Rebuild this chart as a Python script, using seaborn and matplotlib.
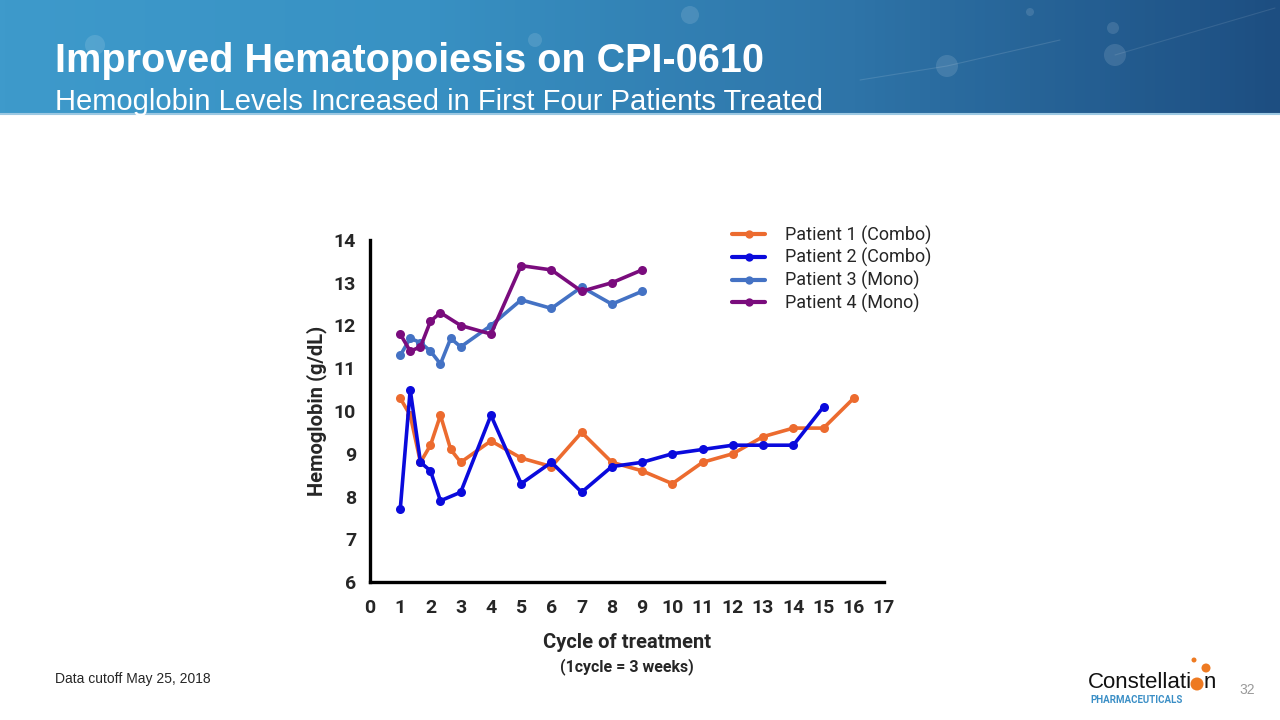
import seaborn as sns
import pandas as pd
import matplotlib.pyplot as plt
import matplotlib
import numpy as np
from matplotlib.colors import LinearSegmentedColormap
from matplotlib.lines import Line2D
from matplotlib.patches import Circle
from matplotlib.font_manager import FontProperties
matplotlib.use('Agg')

# data (cycle of treatment, hemoglobin g/dL)
p1_cycle = [1, 1.33, 1.67, 2, 2.33, 2.67, 3, 4, 5, 6, 7, 8, 9, 10, 11, 12, 13, 14, 15, 16]
p1_hgb = [10.3, 9.9, 8.8, 9.2, 9.9, 9.1, 8.8, 9.3, 8.9, 8.7, 9.5, 8.8, 8.6, 8.3, 8.8, 9.0, 9.4, 9.6, 9.6, 10.3]
p2_cycle = [1, 1.33, 1.67, 2, 2.33, 3, 4, 5, 6, 7, 8, 9, 10, 11, 12, 13, 14, 15]
p2_hgb = [7.7, 10.5, 8.8, 8.6, 7.9, 8.1, 9.9, 8.3, 8.8, 8.1, 8.7, 8.8, 9.0, 9.1, 9.2, 9.2, 9.2, 10.1]
p3_cycle = [1, 1.33, 1.67, 2, 2.33, 2.67, 3, 4, 5, 6, 7, 8, 9]
p3_hgb = [11.3, 11.7, 11.6, 11.4, 11.1, 11.7, 11.5, 12.0, 12.6, 12.4, 12.9, 12.5, 12.8]
p4_cycle = [1, 1.33, 1.67, 2, 2.33, 3, 4, 5, 6, 7, 8, 9]
p4_hgb = [11.8, 11.4, 11.5, 12.1, 12.3, 12.0, 11.8, 13.4, 13.3, 12.8, 13.0, 13.3]

names = ["Patient 1 (Combo)", "Patient 2 (Combo)", "Patient 3 (Mono)", "Patient 4 (Mono)"]
colors = ["#EC6B2F", "#0A0ADC", "#4472C4", "#7A0C7D"]
x_ticks = list(range(0, 18))
y_ticks = list(range(6, 15))

frames = []
for name, xs, ys in zip(names, [p1_cycle, p2_cycle, p3_cycle, p4_cycle], [p1_hgb, p2_hgb, p3_hgb, p4_hgb]):
    frames.append(pd.DataFrame({"cycle": xs, "hgb": ys, "patient": name}))
df = pd.concat(frames, ignore_index=True)

sns.set_style("white")
plt.rcParams['font.family'] = ['Liberation Sans', 'DejaVu Sans']

def narrow(size, weight="bold"):
    return FontProperties(family="Roboto", stretch="condensed", weight=weight, size=size)

fig = plt.figure(figsize=(12.8, 7.2), dpi=100)
# overlay in pixel coordinates for decorations
pix = fig.add_axes([0, 0, 1, 1])
pix.set_xlim(0, 1280)
pix.set_ylim(720, 0)
pix.axis("off")

# header banner
cmap = LinearSegmentedColormap.from_list("banner", ["#3E9ACB", "#3891C3", "#2E74A8", "#1D4E81"])
grad = np.linspace(0, 1, 256).reshape(1, -1)
pix.imshow(grad, aspect='auto', cmap=cmap, extent=(0, 1280, 115, 0))
for cx, cy, r in [(95, 45, 10), (535, 40, 7), (690, 15, 9), (947, 66, 11), (1113, 28, 6), (1115, 55, 11), (1030, 12, 4)]:
    pix.add_patch(Circle((cx, cy), r, color="white", alpha=0.12, lw=0))
pix.plot([860, 947, 1060], [80, 66, 40], color="white", alpha=0.12, lw=0.8)
pix.plot([1115, 1200, 1275], [55, 30, 8], color="white", alpha=0.1, lw=0.8)
pix.plot([0, 1280], [114, 114], color="#9CC8E2", lw=1.5)
pix.set_xlim(0, 1280)
pix.set_ylim(720, 0)
pix.text(55, 72, "Improved Hematopoiesis on CPI-0610", color="white",
         fontsize=28.5, fontweight="bold", va="baseline")
pix.text(55, 110, "Hemoglobin Levels Increased in First Four Patients Treated", color="white",
         fontsize=21, va="baseline")

ax = fig.add_axes([370 / 1280, 1 - 582 / 720, 514 / 1280, 342 / 720])
sns.lineplot(data=df, x="cycle", y="hgb", hue="patient", hue_order=names, palette=colors,
             estimator=None, marker="o", markersize=6.5, markeredgewidth=0, linewidth=2.6,
             ax=ax, legend=False)
ax.set_xlim(0, 17)
ax.set_ylim(6, 14)
ax.set_xticks(x_ticks)
ax.set_xticklabels([str(t) for t in x_ticks], fontproperties=narrow(14))
ax.set_yticks(y_ticks)
ax.set_yticklabels([str(t) for t in y_ticks], fontproperties=narrow(14))
ax.tick_params(axis="both", direction="out", length=6, width=2.2, color="black", pad=4)
ax.tick_params(axis="x", pad=6)
for s in ["top", "right"]:
    ax.spines[s].set_visible(False)
for s in ["left", "bottom"]:
    ax.spines[s].set_linewidth(2.4)
    ax.spines[s].set_color("black")
ax.set_xlabel("Cycle of treatment", fontproperties=narrow(14.5), labelpad=12)
ax.set_ylabel("Hemoglobin (g/dL)", fontproperties=narrow(14.5), labelpad=5)
ax.patch.set_alpha(0)
pix.text(627, 667, "(1cycle = 3 weeks)", fontproperties=narrow(11.5), ha="center", va="center")

handles = [Line2D([0], [0], color=c, lw=3, marker="o", markersize=6, markeredgewidth=0) for c in colors]
fig.legend(handles=handles, labels=names, loc="upper left", bbox_to_anchor=(718 / 1280, 1 - 211 / 720),
           frameon=False, prop=narrow(13, "normal"), handlelength=1.8,
           handletextpad=1.1, labelspacing=0.2, borderpad=0.3)

# footer
pix.text(55, 679, "Data cutoff May 25, 2018", fontsize=10, va="center")
pix.text(1247, 690, "32", fontsize=10, color="#9A9A9A", ha="center", va="center")
pix.text(1088, 683, "Constellati", fontsize=16, va="center", color="#111111")
pix.text(1204, 683, "n", fontsize=16, va="center", color="#111111")
pix.text(1090, 700, "PHARMACEUTICALS", fontproperties=narrow(7), va="center", color="#3B8FC6")
for cx, cy, r in [(1194, 660, 2.5), (1206, 668, 4.5), (1197, 684, 6.5)]:
    pix.add_patch(Circle((cx, cy), r, color="#EE7A22", lw=0))

fig.savefig("out.png", dpi=100)
